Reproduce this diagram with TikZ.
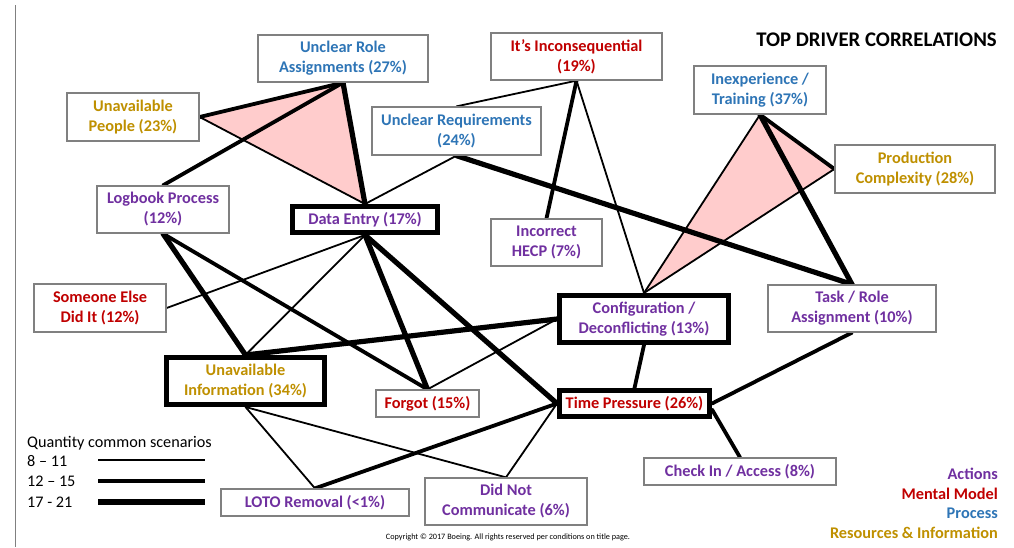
\documentclass[tikz,border=0pt]{standalone}
\usepackage{fontspec}
\setmainfont{Carlito}
\usetikzlibrary{backgrounds,calc}
\definecolor{cpur}{HTML}{7030A0}
\definecolor{cred}{HTML}{C00000}
\definecolor{cblu}{HTML}{2E75B6}
\definecolor{cgold}{HTML}{BF9000}
\definecolor{cpink}{HTML}{FFCCCC}
\definecolor{boxgray}{HTML}{808080}
\tikzset{
  gbox/.style={draw=boxgray,line width=1.3pt,fill=white,align=center,inner sep=0pt,
    font=\bfseries\fontsize{16.3}{20}\selectfont},
  tbox/.style={draw=black,line width=5pt,fill=white,align=center,inner sep=0pt,
    font=\bfseries\fontsize{16.3}{20}\selectfont},
  lwa/.style={line width=1.8pt,line cap=round},
  lwb/.style={line width=3.8pt,line cap=round},
  lwc/.style={line width=5.2pt,line cap=round},
  leg/.style={anchor=west,inner sep=0pt,font=\fontsize{16.2}{20}\selectfont},
  cat/.style={anchor=east,inner sep=0pt,font=\bfseries\fontsize{16.3}{20}\selectfont},
}
\begin{document}
\begin{tikzpicture}[x=1pt,y=-1pt]
\useasboundingbox (0,0) rectangle (1014,547);
\draw[boxgray,line width=1pt] (15,5) -- (15,547);

% nodes
\node[gbox,text=cblu,minimum width=170pt,minimum height=47pt] (ura) at (343,58.5) {Unclear Role\\Assignments (27\%)};
\node[gbox,text=cred,minimum width=171pt,minimum height=47pt] (inc) at (576.5,56.5) {It’s Inconsequential\\(19\%)};
\node[gbox,text=cgold,minimum width=132pt,minimum height=48pt] (uap) at (133,117) {Unavailable\\People (23\%)};
\node[gbox,text=cblu,minimum width=169pt,minimum height=48pt] (ureq) at (456.5,131) {Unclear Requirements\\(24\%)};
\node[gbox,text=cblu,minimum width=132pt,minimum height=48pt] (inex) at (760,90) {Inexperience /\\Training (37\%)};
\node[gbox,text=cgold,minimum width=160pt,minimum height=48pt] (prod) at (915,169) {Production\\Complexity (28\%)};
\node[gbox,text=cpur,minimum width=132pt,minimum height=47pt] (logb) at (163,209.5) {Logbook Process\\(12\%)};
\node[tbox,text=cpur,minimum width=145pt,minimum height=26pt] (de) at (365,219.5) {Data Entry (17\%)};
\node[gbox,text=cpur,minimum width=111pt,minimum height=47pt] (hecp) at (546.5,242.5) {Incorrect\\HECP (7\%)};
\node[gbox,text=cred,minimum width=132pt,minimum height=48pt] (seo) at (100,308) {Someone Else\\Did It (12\%)};
\node[tbox,text=cpur,minimum width=169pt,minimum height=47pt] (conf) at (644,319) {Configuration /\\Deconflicting (13\%)};
\node[gbox,text=cpur,minimum width=168pt,minimum height=47pt] (task) at (852,308.5) {Task / Role\\Assignment (10\%)};
\node[tbox,text=cgold,minimum width=158pt,minimum height=47pt] (uai) at (245.5,381) {Unavailable\\Information (34\%)};
\node[gbox,text=cred,minimum width=103pt,minimum height=27pt] (forgot) at (427.5,403.5) {Forgot (15\%)};
\node[tbox,text=cred,minimum width=150pt,minimum height=26pt] (tp) at (634.5,403.5) {Time Pressure (26\%)};
\node[gbox,text=cpur,minimum width=192pt,minimum height=27pt] (chk) at (740,471.5) {Check In / Access (8\%)};
\node[gbox,text=cpur,minimum width=188pt,minimum height=27pt] (loto) at (315,502.5) {LOTO Removal (<1\%)};
\node[gbox,text=cpur,minimum width=162pt,minimum height=47pt] (dnc) at (506,501.5) {Did Not\\Communicate (6\%)};

\coordinate (tpse) at ($(tp.east)+(0,6)$);

\begin{pgfonlayer}{background}
  \fill[cpink] (uap.east) -- (ura.south) -- (de.north) -- cycle;
  \fill[cpink] (inex.south) -- (prod.west) -- (conf.north) -- cycle;
  % thin
  \draw[lwa] (uap.east) -- (de.north);
  \draw[lwa] (ureq.north) -- (inc.south);
  \draw[lwa] (ureq.south) -- (de.north);
  \draw[lwa] (inc.south) -- (conf.north);
  \draw[lwa] (inex.south) -- (conf.north);
  \draw[lwa] (prod.west) -- (conf.north);
  \draw[lwa] (de.south) -- (seo.east);
  \draw[lwa] (de.south) -- (uai.north);
  \draw[lwa] (conf.west) -- (forgot.north);
  \draw[lwa] (tp.west) -- (dnc.north);
  \draw[lwa] (uai.south) -- (loto.north);
  \draw[lwa] (uai.south) -- (dnc.north);
  % medium
  \draw[lwb] (uap.east) -- (ura.south);
  \draw[lwb] (ura.south) -- (logb.north);
  \draw[lwb] (inc.south) -- (hecp.north);
  \draw[lwb] (inex.south) -- (prod.west);
  \draw[lwb] (logb.south) -- (forgot.north);
  \draw[lwb] (conf.south) -- (tp.north);
  \draw[lwb] (task.south) -- (tp.east);
  \draw[lwb] (tpse) -- (chk.north);
  \draw[lwb] (tp.west) -- (loto.north);
  % thick
  \draw[lwc] (ura.south) -- (de.north);
  \draw[lwc] (ureq.south) -- (task.north);
  \draw[lwc] (inex.south) -- (task.north);
  \draw[lwc] (logb.south) -- (uai.north);
  \draw[lwc] (de.south) -- (forgot.north);
  \draw[lwc] (de.south) -- (tp.west);
  \draw[lwc] (conf.west) -- (uai.north);
\end{pgfonlayer}

% title
\node[anchor=east,inner sep=0pt,font=\bfseries\fontsize{20.8}{24}\selectfont] (title) at (997,40) {TOP DRIVER CORRELATIONS};

% legend
\node[leg] (lq) at (27,443) {Quantity common scenarios};
\node[leg] (l1) at (27,461.5) {8 – 11};
\node[leg] (l2) at (27,481.5) {12 – 15};
\node[leg] (l3) at (27,502) {17 - 21};
\coordinate (a1) at (98,460); \coordinate (b1) at (205,460);
\coordinate (a2) at (98,481); \coordinate (b2) at (205,481);
\coordinate (a3) at (98,502); \coordinate (b3) at (205,502);
\draw[line width=1.7pt] (a1) -- (b1);
\draw[line width=3.8pt] (a2) -- (b2);
\draw[line width=5.2pt] (a3) -- (b3);

% categories
\node[cat,text=cpur] (k1) at (998,474) {Actions};
\node[cat,text=cred] (k2) at (998,494) {Mental Model};
\node[cat,text=cblu] (k3) at (998,513.5) {Process};
\node[cat,text=cgold] (k4) at (998,533) {Resources \& Information};

\node[inner sep=0pt,font=\fontsize{8.2}{9}\selectfont] (copy) at (508,537) {Copyright © 2017 Boeing. All rights reserved per conditions on title page.};
\end{tikzpicture}
\end{document}
